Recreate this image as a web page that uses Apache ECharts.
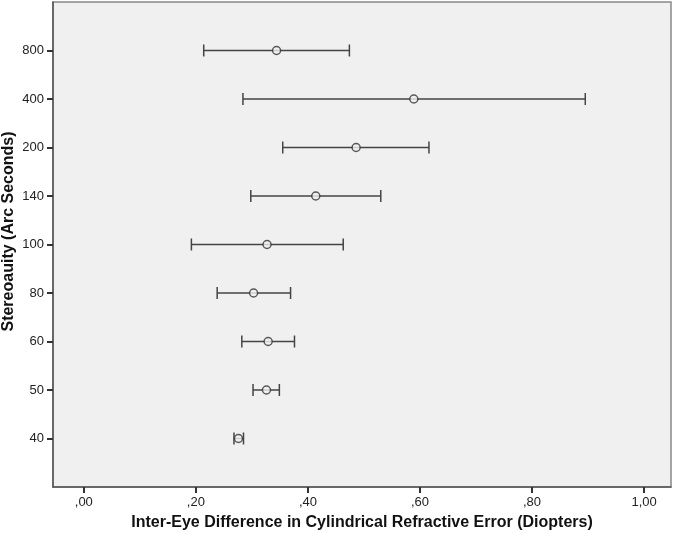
<!DOCTYPE html>
<html>
<head>
<meta charset="utf-8">
<script src="https://cdn.jsdelivr.net/npm/echarts@6/dist/echarts.min.js"></script>
<style>
  html, body { margin: 0; padding: 0; background: #fff; }
  #chart { width: 673px; height: 533px; }
</style>
</head>
<body>
<div id="chart"></div>
<script>
const stereoLevels = ['40', '50', '60', '80', '100', '140', '200', '400', '800']
const meanDiff = [0.276, 0.326, 0.329, 0.303, 0.327, 0.414, 0.486, 0.589, 0.344]
const lowerCI = [0.268, 0.302, 0.282, 0.238, 0.192, 0.298, 0.355, 0.284, 0.214]
const upperCI = [0.285, 0.349, 0.376, 0.369, 0.463, 0.530, 0.616, 0.895, 0.474]
const xTicks = [0, 0.2, 0.4, 0.6, 0.8, 1.0]

const ink = '#444'
const labelFont = { color: '#222', fontSize: 13, fontFamily: 'Liberation Sans, Arial, sans-serif' }
const titleFont = { ...labelFont, fontWeight: 'bold', fontSize: 16, color: '#111' }

// y position 1..9 for each stereo level, with a blank slot above and below
const rowPos = stereoLevels.map((_, i) => i + 1)

const barData = rowPos.map((p, i) => [lowerCI[i], upperCI[i], p])
const pointData = rowPos.map((p, i) => [meanDiff[i], p])

const fmtX = (v) => {
  const s = v.toFixed(2).replace('.', ',')
  return s.startsWith('0') ? s.slice(1) : s
}

const chart = echarts.init(document.getElementById('chart'), null, { renderer: 'canvas' })

chart.setOption({
  animation: false,
  backgroundColor: '#fff',
  grid: {
    left: 53, right: 2, top: 2, bottom: 46,
    containLabel: false,
    outerBoundsMode: 'none',
    show: true,
    backgroundColor: '#f0f0f0',
    borderColor: '#888',
    borderWidth: 1.5,
  },
  xAxis: {
    type: 'value',
    min: -0.055,
    max: 1.048,
    name: 'Inter-Eye Difference in Cylindrical Refractive Error (Diopters)',
    nameLocation: 'middle',
    nameGap: 28,
    nameMoveOverlap: false,
    nameTextStyle: titleFont,
    splitLine: { show: false },
    axisLine: { show: true, onZero: false, lineStyle: { color: '#555', width: 1.5 } },
    axisTick: { show: true, length: 6, customValues: xTicks, lineStyle: { color: '#333', width: 2 } },
    axisLabel: { ...labelFont, margin: 9, customValues: xTicks, formatter: fmtX },
  },
  yAxis: {
    type: 'value',
    min: 0,
    max: 10,
    name: 'Stereoauity (Arc Seconds)',
    nameLocation: 'middle',
    nameGap: 36,
    nameRotate: 90,
    nameMoveOverlap: false,
    nameTextStyle: { ...titleFont, padding: [0, 0, 0, 26] },
    splitLine: { show: false },
    axisLine: { show: true, onZero: false, lineStyle: { color: '#555', width: 1.5 } },
    axisTick: { show: true, length: 6, customValues: rowPos, lineStyle: { color: '#333', width: 2 } },
    axisLabel: {
      ...labelFont,
      margin: 9,
      customValues: rowPos,
      formatter: (v) => stereoLevels[Math.round(v) - 1] || '',
    },
  },
  series: [
    {
      type: 'custom',
      data: barData,
      encode: { x: [0, 1], y: 2 },
      renderItem: (params, api) => {
        const y = api.value(2)
        const a = api.coord([api.value(0), y])
        const b = api.coord([api.value(1), y])
        const h = 6
        const style = { stroke: ink, lineWidth: 1.5 }
        return {
          type: 'group',
          children: [
            { type: 'line', shape: { x1: a[0], y1: a[1], x2: b[0], y2: b[1] }, style },
            { type: 'line', shape: { x1: a[0], y1: a[1] - h, x2: a[0], y2: a[1] + h }, style },
            { type: 'line', shape: { x1: b[0], y1: b[1] - h, x2: b[0], y2: b[1] + h }, style },
          ],
        }
      },
      z: 2,
    },
    {
      type: 'scatter',
      data: pointData,
      symbol: 'circle',
      symbolSize: 8,
      itemStyle: { color: '#f0f0f0', borderColor: '#333', borderWidth: 1.5 },
      z: 3,
    },
  ],
})
</script>
</body>
</html>
